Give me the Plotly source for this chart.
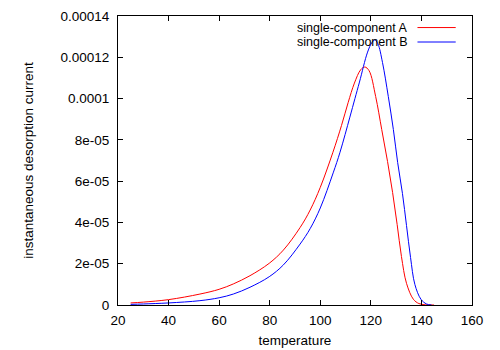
"""
Desorption current vs temperature — two single-component curves, gnuplot look.
"""

import plotly.graph_objects as go

FONT = "Liberation Sans, Arial, sans-serif"
FONT_SIZE = 13.5

# values (current in units of 1e-6)
temp_a = [25, 30, 40, 52.4, 60, 65.6, 72.2, 79.8, 85.4, 92, 96, 100, 105,
          108.4, 111, 113.5, 116, 117.6, 119.3, 121.9, 124.3, 126.6, 128.6,
          130.4, 132.1, 134.1, 136.8, 139, 141.5, 145]
curr_a = [1.0, 1.4, 2.6, 5.3, 7.6, 10.2, 14.2, 20.2, 26.6, 37.5, 46, 57, 74,
          87, 98, 107.5, 114, 115.3, 113.5, 101, 85, 69.5, 54.5,
          39, 23.5, 10.5, 2.8, 0.7, 0.1, 0]

temp_b = [25, 30, 40, 52.4, 60, 65.6, 72.2, 79.8, 85.4, 92, 96, 100, 105.1,
          107.8, 111.7, 113.7, 115.5, 118.7, 120.5, 121.6, 122.8, 124.6,
          126.9, 128.9, 130.6, 132.5, 134.1, 135.7, 137.4, 139.8, 142, 144]
curr_b = [0.3, 0.5, 1.0, 2.1, 3.5, 5.3, 8.6, 13.7, 19.4, 29.5, 37, 47, 64,
          74, 91, 100, 108, 122.5, 127.3, 128.4, 126.5, 117.5,
          101, 85, 69, 54, 38.5, 23, 10, 2.8, 0.5, 0]

names = ["single-component A", "single-component B"]
colors = ["#ff0000", "#0000ff"]

x_ticks = [20, 40, 60, 80, 100, 120, 140, 160]
y_ticks = [0, 2e-5, 4e-5, 6e-5, 8e-5, 1e-4, 1.2e-4, 1.4e-4]
y_labels = ["0", "2e-05", "4e-05", "6e-05", "8e-05", "0.0001", "0.00012", "0.00014"]

fig = go.Figure()
for t, c, name, color in zip([temp_a, temp_b], [curr_a, curr_b], names, colors):
    fig.add_trace(
        go.Scatter(
            x=t,
            y=[v * 1e-6 for v in c],
            mode="lines",
            name=name,
            line=dict(color=color, width=1, shape="spline", smoothing=1.0),
            showlegend=False,
        )
    )

# gnuplot-style key: text right-aligned, line sample to the right
for i, (name, color) in enumerate(zip(names, colors)):
    ypos = 0.96 - i * 0.05
    fig.add_annotation(
        x=0.823, y=ypos, xref="paper", yref="paper", text=name,
        showarrow=False, xanchor="right", yanchor="middle",
        font=dict(family=FONT, size=12.5, color="#000000"),
    )
    fig.add_shape(
        type="line", xref="paper", yref="paper",
        x0=0.846, x1=0.954, y0=ypos, y1=ypos,
        line=dict(color=color, width=1),
    )

axis_common = dict(
    showline=True,
    linecolor="#000000",
    linewidth=1,
    mirror="ticks",
    ticks="inside",
    ticklen=5,
    tickcolor="#000000",
    showgrid=False,
    zeroline=False,
    automargin=False,
    tickfont=dict(family=FONT, size=FONT_SIZE, color="#000000"),
)

fig.update_xaxes(
    range=[20, 160],
    tickmode="array",
    tickvals=x_ticks,
    ticktext=[str(v) for v in x_ticks],
    ticklabelstandoff=3,
    title=dict(text="temperature", font=dict(family=FONT, size=FONT_SIZE, color="#000000"), standoff=8),
    **axis_common,
)
fig.update_yaxes(
    range=[0, 1.4e-4],
    tickmode="array",
    tickvals=y_ticks,
    ticktext=y_labels,
    ticklabelstandoff=5,
    title=dict(text="instantaneous desorption current",
               font=dict(family=FONT, size=FONT_SIZE, color="#000000"), standoff=23),
    **axis_common,
)

fig.update_layout(
    width=500,
    height=350,
    margin=dict(l=118, r=28, t=16, b=45),
    plot_bgcolor="#ffffff",
    paper_bgcolor="#ffffff",
    font=dict(family=FONT, size=FONT_SIZE, color="#000000"),
)

fig.write_html(
    "out.html",
    config={"displayModeBar": False},
    post_script="document.body.style.margin='0';",
)
